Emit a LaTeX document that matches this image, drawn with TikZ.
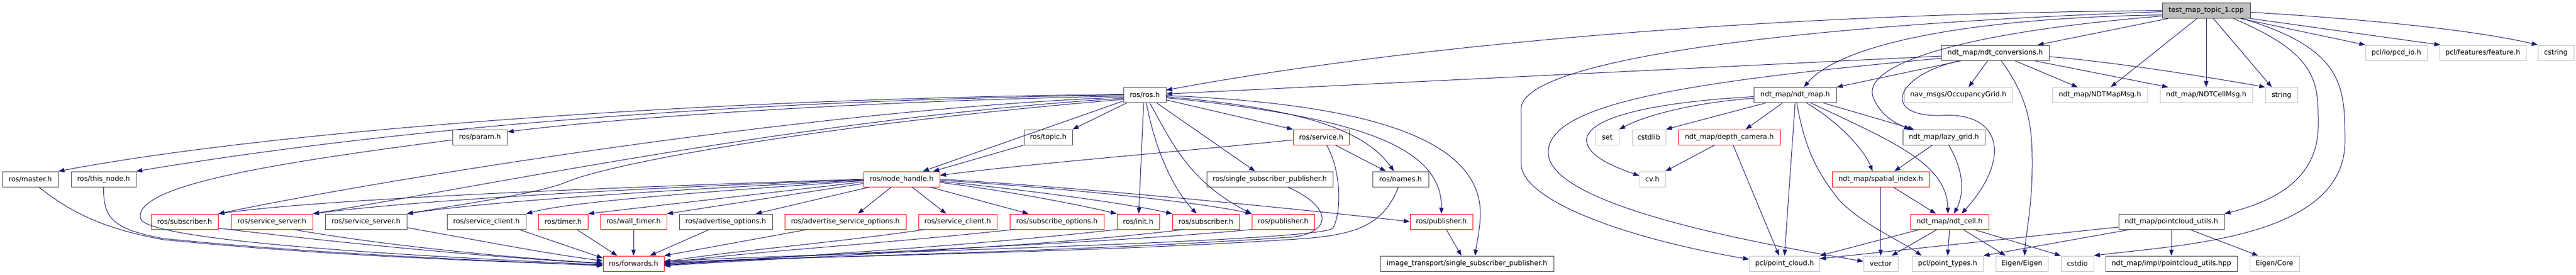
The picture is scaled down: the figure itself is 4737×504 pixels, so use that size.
\documentclass[tikz,border=0pt]{standalone}
\usepackage{fontspec}
\setmainfont{DejaVu Sans}
\usetikzlibrary{arrows.meta}
\definecolor{edgec}{RGB}{25,25,112}
\definecolor{bordk}{RGB}{64,64,64}
\definecolor{bordr}{RGB}{255,0,0}
\definecolor{bordg}{RGB}{191,191,191}
\tikzset{
  nbase/.style={draw, line width=1pt, inner sep=0pt, minimum height=28pt, fill=white, text=black, font=\fontsize{12.7}{15}\selectfont},
  nb/.style={nbase, draw=bordk},
  nr/.style={nbase, draw=bordr},
  ng/.style={nbase, draw=bordg},
  nroot/.style={nbase, draw=bordk, fill=bordg},
  lk/.style={draw=edgec, line width=1pt, -{Triangle[length=11pt,width=8pt]}}
}
\begin{document}
\begin{tikzpicture}[x=1pt,y=-1pt]
\useasboundingbox (0,0) rectangle (4737,504);
% row 0
\node[nroot, minimum width=162pt] (T) at (4057,19.5) {test\_map\_topic\_1.cpp};
% row 1
\node[nb, minimum width=198pt] (C) at (3669,97) {ndt\_map/ndt\_conversions.h};
\node[ng, minimum width=113pt] (pcd) at (4406.5,97) {pcl/io/pcd\_io.h};
\node[ng, minimum width=159pt] (feat) at (4565.5,97) {pcl/features/feature.h};
\node[ng, minimum width=66pt] (cstr) at (4700,97) {cstring};
% row 2
\node[nb, minimum width=78pt] (R) at (2105,174.5) {ros/ros.h};
\node[nb, minimum width=152pt] (M) at (3301,174.5) {ndt\_map/ndt\_map.h};
\node[ng, minimum width=198pt] (occ) at (3601,174.5) {nav\_msgs/OccupancyGrid.h};
\node[ng, minimum width=175pt] (mapmsg) at (3861.5,174.5) {ndt\_map/NDTMapMsg.h};
\node[ng, minimum width=170pt] (cellmsg) at (4057,174.5) {ndt\_map/NDTCellMsg.h};
\node[ng, minimum width=59pt] (str) at (4195.5,174.5) {string};
% row 3
\node[nb, minimum width=101pt] (param) at (882.5,252) {ros/param.h};
\node[nb, minimum width=89pt] (topic) at (1927.5,252) {ros/topic.h};
\node[nr, minimum width=103pt] (srv) at (2429.5,252) {ros/service.h};
\node[ng, minimum width=43pt] (set) at (2955.5,252) {set};
\node[ng, minimum width=62pt] (cstdlib) at (3032,252) {cstdlib};
\node[nr, minimum width=188pt] (depth) at (3180,252) {ndt\_map/depth\_camera.h};
\node[nb, minimum width=151pt] (lazy) at (3574.5,252) {ndt\_map/lazy\_grid.h};
% row 4
\node[nb, minimum width=103pt] (master) at (55.5,329) {ros/master.h};
\node[nb, minimum width=119pt] (thisn) at (190.5,329) {ros/this\_node.h};
\node[nr, minimum width=140pt] (N) at (1658,329) {ros/node\_handle.h};
\node[nb, minimum width=232pt] (ssp) at (2335,329) {ros/single\_subscriber\_publisher.h};
\node[nb, minimum width=103pt] (names) at (2575.5,329) {ros/names.h};
\node[ng, minimum width=47pt] (cv) at (3038.5,329) {cv.h};
\node[nr, minimum width=179pt] (spatial) at (3458.5,329) {ndt\_map/spatial\_index.h};
% row 5
\node[nr, minimum width=123pt] (subA) at (339.5,407) {ros/subscriber.h};
\node[nr, minimum width=150pt] (ssA) at (500,407) {ros/service\_server.h};
\node[nb, minimum width=150pt] (ssB) at (673,407) {ros/service\_server.h};
\node[nb, minimum width=145pt] (scA) at (894.5,407) {ros/service\_client.h};
\node[nr, minimum width=91pt] (timer) at (1035.5,407) {ros/timer.h};
\node[nr, minimum width=122pt] (wtimer) at (1165,407) {ros/wall\_timer.h};
\node[nb, minimum width=171pt] (advo) at (1334.5,407) {ros/advertise\_options.h};
\node[nr, minimum width=223pt] (advso) at (1554.5,407) {ros/advertise\_service\_options.h};
\node[nr, minimum width=144pt] (scB) at (1761,407) {ros/service\_client.h};
\node[nr, minimum width=173pt] (subo) at (1943.5,407) {ros/subscribe\_options.h};
\node[nr, minimum width=78pt] (init) at (2093,407) {ros/init.h};
\node[nr, minimum width=123pt] (subB) at (2217.5,407) {ros/subscriber.h};
\node[nr, minimum width=115pt] (pubA) at (2359.5,407) {ros/publisher.h};
\node[nr, minimum width=115pt] (pubB) at (2650.5,407) {ros/publisher.h};
\node[nr, minimum width=144pt] (cell) at (3585,407) {ndt\_map/ndt\_cell.h};
\node[nb, minimum width=194pt] (pcu) at (3993,407) {ndt\_map/pointcloud\_utils.h};
% row 6
\node[nr, minimum width=112pt] (fwd) at (1165,484) {ros/forwards.h};
\node[nb, minimum width=319pt] (itssp) at (2697.5,484) {image\_transport/single\_subscriber\_publisher.h};
\node[ng, minimum width=129pt] (pc) at (3281.5,484) {pcl/point\_cloud.h};
\node[ng, minimum width=63pt] (vec) at (3458.5,484) {vector};
\node[ng, minimum width=131pt] (pt) at (3581.5,484) {pcl/point\_types.h};
\node[ng, minimum width=96pt] (eig) at (3718,484) {Eigen/Eigen};
\node[ng, minimum width=60pt] (cstdio) at (3820,484) {cstdio};
\node[nb, minimum width=242pt] (hpp) at (3993,484) {ndt\_map/impl/pointcloud\_utils.hpp};
\node[ng, minimum width=91pt] (ecore) at (4182.5,484) {Eigen/Core};

% ---- edges from test_map_topic_1.cpp
\draw[lk] (T.west) .. controls (3200,25) and (2550,90) .. ([yshift=9pt]R.east);
\draw[lk] ([xshift=-70pt]T.south) -- ([xshift=78pt]C.north);
\draw[lk] ([yshift=-8pt]T.west) .. controls (3650,32) and (3390,75) .. ([xshift=16pt]M.north);
\draw[lk] ([yshift=-10pt]T.west) .. controls (3600,60) and (3420,120) .. (3445,180) .. controls (3460,215) and (3490,228) .. ([xshift=-62pt]lazy.north);
\draw[lk] ([yshift=-2pt]T.west) .. controls (3300,45) and (2797,110) .. (2797,200) -- (2797,300) .. controls (2797,370) and (3000,440) .. ([yshift=8pt]pc.west);
\draw[lk] ([xshift=-17pt]T.south) -- ([xshift=20pt]mapmsg.north);
\draw[lk] (T.south) -- (cellmsg.north);
\draw[lk] ([xshift=13pt]T.south) -- ([xshift=-18pt]str.north);
\draw[lk] ([xshift=50pt]T.south) .. controls (4263,100) and (4263,150) .. (4263,230) .. controls (4263,330) and (4180,370) .. (pcu.north east);
\draw[lk] ([xshift=66pt]T.south) .. controls (4312,90) and (4312,160) .. (4312,260) .. controls (4312,440) and (4000,450) .. (cstdio.north east);
\draw[lk] ([xshift=63pt]T.south) -- (pcd.north west);
\draw[lk] (T.south east) -- ([xshift=-78pt]feat.north);
\draw[lk] ([yshift=-3pt]T.east) .. controls (4350,35) and (4550,55) .. (cstr.north west);

% ---- edges from ndt_conversions.h
\draw[lk] ([yshift=-6pt]C.west) -- ([yshift=2pt]R.east);
\draw[lk] ([yshift=-10pt]C.west) .. controls (3100,150) and (2847,190) .. (2847,280) .. controls (2847,380) and (3250,450) .. ([yshift=4pt]vec.west);
\draw[lk] ([xshift=-62pt]C.south) -- (M.north east);
\draw[lk] ([xshift=-14pt]C.south) -- ([xshift=19pt]occ.north);
\draw[lk] ([xshift=36pt]C.south) -- ([xshift=-41pt]mapmsg.north);
\draw[lk] ([xshift=71pt]C.south) -- ([xshift=-70pt]cellmsg.north);
\draw[lk] ([yshift=-7pt]C.east) .. controls (3900,115) and (4080,145) .. (str.north west);
\draw[lk] ([xshift=11pt]C.south) .. controls (3730,180) and (3737,230) .. (3737,300) .. controls (3737,380) and (3725,430) .. ([xshift=5pt]eig.north);
\draw[lk] ([xshift=-66pt]C.south) .. controls (3480,140) and (3460,215) .. (3570,212) .. controls (3680,205) and (3700,290) .. ([xshift=22pt]cell.north);

% ---- edges from ndt_map.h
\draw[lk] ([yshift=-6pt]M.west) .. controls (3120,188) and (3030,210) .. (set.north east);
\draw[lk] ([xshift=-54pt]M.south) -- (cstdlib.north east);
\draw[lk] ([yshift=-3pt]M.west) .. controls (3000,190) and (2910,225) .. (2918,262) .. controls (2925,292) and (2980,310) .. ([yshift=6pt]cv.west);
\draw[lk] ([xshift=-23pt]M.south) -- ([xshift=30pt]depth.north);
\draw[lk] (M.south) -- (pc.north);
\draw[lk] ([xshift=3pt]M.south) .. controls (3320,280) and (3345,320) .. (3380,365) .. controls (3420,410) and (3500,445) .. ([xshift=-48pt]pt.north);
\draw[lk] ([xshift=21pt]M.south) .. controls (3390,230) and (3430,280) .. ([xshift=-15pt]spatial.north);
\draw[lk] ([xshift=29pt]M.south) .. controls (3480,260) and (3580,300) .. ([xshift=-3pt]cell.north);
\draw[lk] ([xshift=52pt]M.south) -- ([xshift=-55pt]lazy.north);

% ---- depth camera, lazy grid, spatial index, cell
\draw[lk] ([xshift=-27pt]depth.south) -- (cv.north east);
\draw[lk] ([xshift=7pt]depth.south) -- ([xshift=-10pt]pc.north);
\draw[lk] ([xshift=-21pt]lazy.south) -- ([xshift=25pt]spatial.north);
\draw[lk] ([xshift=9pt]lazy.south) .. controls (3615,320) and (3610,360) .. ([xshift=8pt]cell.north);
\draw[lk] (spatial.south) -- (vec.north);
\draw[lk] ([xshift=23pt]spatial.south) -- ([xshift=-25pt]cell.north);
\draw[lk] ([xshift=-55pt]cell.south) -- (pc.north east);
\draw[lk] ([xshift=-23pt]cell.south) -- ([xshift=20pt]vec.north);
\draw[lk] (cell.south) -- (pt.north);
\draw[lk] ([xshift=25pt]cell.south) -- ([xshift=-30pt]eig.north);
\draw[lk] ([xshift=45pt]cell.south) -- (cstdio.north west);

% ---- pointcloud utils
\draw[lk] (pcu.south) -- (hpp.north);
\draw[lk] ([xshift=34pt]pcu.south) -- ([xshift=-30pt]ecore.north);
\draw[lk] ([xshift=-76pt]pcu.south) -- (pt.north east);
\draw[lk] ([yshift=-10pt]pcu.west) -- ([yshift=9pt]pc.east);

% ---- ros/ros.h
\draw[lk] ([yshift=1pt]R.west) .. controls (1300,180) and (500,240) .. (master.north east);
\draw[lk] (R.west) .. controls (1300,185) and (700,240) .. (thisn.north east);
\draw[lk] ([yshift=-2pt]R.west) .. controls (1600,185) and (1150,215) .. ([yshift=10pt]param.east);
\draw[lk] ([yshift=-4pt]R.west) .. controls (1500,200) and (700,330) .. (subA.north east);
\draw[lk] ([yshift=-6pt]R.west) .. controls (1500,215) and (900,340) .. (ssA.north east);
\draw[lk] ([yshift=-8pt]R.west) .. controls (1500,230) and (1120,300) .. (1040,335) .. controls (990,355) and (850,375) .. (ssB.north east);
\draw[lk] ([xshift=-33pt]R.south) -- (topic.north east);
\draw[lk] ([yshift=-11pt]R.west) -- ([xshift=39pt]N.north);
\draw[lk] ([xshift=-2pt]R.south) -- ([xshift=1pt]init.north);
\draw[lk] ([xshift=3pt]R.south) .. controls (2125,280) and (2160,350) .. ([xshift=-17pt]subB.north);
\draw[lk] ([xshift=9pt]R.south) .. controls (2150,250) and (2180,330) .. (pubA.north west);
\draw[lk] ([xshift=22pt]R.south) -- ([xshift=-27pt]ssp.north);
\draw[lk] ([yshift=-9pt]R.east) -- (srv.north west);
\draw[lk] ([yshift=-3pt]R.east) .. controls (2400,200) and (2510,240) .. ([xshift=-12pt]names.north);
\draw[lk] ([yshift=-5pt]R.east) .. controls (2500,215) and (2652,270) .. (pubB.north);
\draw[lk] ([yshift=-1pt]R.east) .. controls (2500,190) and (2730,250) .. (2722,400) .. controls (2720,430) and (2715,450) .. ([xshift=15pt]itssp.north);

% ---- topic, service, names, single_subscriber_publisher
\draw[lk] (topic.south west) -- ([xshift=58pt]N.north);
\draw[lk] ([yshift=-5pt]srv.west) .. controls (2100,285) and (1900,300) .. ([yshift=7pt]N.east);
\draw[lk] ([xshift=26pt]srv.south) -- ([xshift=-27pt]names.north);
\draw[lk] ([xshift=10pt]srv.south) .. controls (2470,320) and (2465,400) .. (2450,420) .. controls (2400,445) and (1500,465) .. ([yshift=4pt]fwd.east);
\draw[lk] ([xshift=-4pt]names.south) .. controls (2545,410) and (2500,430) .. (2400,438) .. controls (2000,465) and (1500,470) .. ([yshift=2pt]fwd.east);
\draw[lk] ([xshift=33pt]ssp.south) .. controls (2450,380) and (2450,425) .. (2380,435) .. controls (2000,462) and (1500,470) .. (fwd.east);
\draw[lk] ([xshift=9pt]pubB.south) -- ([xshift=-10pt]itssp.north);

% ---- node_handle.h
\draw[lk] (N.west) .. controls (1100,345) and (600,365) .. (subA.north east);
\draw[lk] ([yshift=-1pt]N.west) .. controls (1100,348) and (750,370) .. (ssA.north east);
\draw[lk] ([yshift=-2pt]N.west) .. controls (1200,350) and (900,370) .. (ssB.north east);
\draw[lk] ([yshift=-3pt]N.west) .. controls (1300,352) and (1050,370) .. (scA.north east);
\draw[lk] ([yshift=-5pt]N.west) -- (timer.north east);
\draw[lk] ([yshift=-8pt]N.west) -- (wtimer.north east);
\draw[lk] ([xshift=-59pt]N.south) -- ([xshift=55pt]advo.north);
\draw[lk] ([xshift=-19pt]N.south) -- ([xshift=23pt]advso.north);
\draw[lk] ([xshift=19pt]N.south) -- ([xshift=-21pt]scB.north);
\draw[lk] ([xshift=52pt]N.south) -- ([xshift=-52pt]subo.north);
\draw[lk] ([yshift=-6pt]N.east) .. controls (1850,350) and (1980,375) .. (init.north west);
\draw[lk] ([yshift=-4pt]N.east) .. controls (1900,350) and (2080,375) .. (subB.north west);
\draw[lk] ([yshift=-2pt]N.east) .. controls (1950,345) and (2200,370) .. (pubA.north west);
\draw[lk] (N.east) .. controls (2000,345) and (2400,385) .. (pubB.west);

% ---- into ros/forwards.h from the right
\draw[lk] (pubA.south west) .. controls (2000,450) and (1500,465) .. ([yshift=-2pt]fwd.east);
\draw[lk] ([xshift=-40pt]subB.south) .. controls (1900,455) and (1500,470) .. ([yshift=-4pt]fwd.east);
\draw[lk] (init.south west) .. controls (1800,450) and (1500,468) .. ([yshift=-3pt]fwd.east);
\draw[lk] ([xshift=-80pt]subo.south) .. controls (1600,450) and (1400,460) .. ([yshift=1pt]fwd.east);
\draw[lk] ([xshift=-60pt]scB.south) .. controls (1500,450) and (1350,460) .. ([yshift=3pt]fwd.east);
\draw[lk] ([xshift=-70pt]advso.south) -- (fwd.north east);
\draw[lk] ([xshift=-30pt]advo.south) -- ([xshift=30pt]fwd.north);
\draw[lk] (wtimer.south) -- (fwd.north);
\draw[lk] ([xshift=25pt]timer.south) -- ([xshift=-30pt]fwd.north);
% ---- into ros/forwards.h from the left
\draw[lk] ([xshift=60pt]scA.south) -- ([yshift=10pt]fwd.west);
\draw[lk] ([yshift=-11pt]ssB.east) .. controls (900,445) and (1000,465) .. ([yshift=5pt]fwd.west);
\draw[lk] ([xshift=40pt]ssA.south) .. controls (700,450) and (950,475) .. ([yshift=1pt]fwd.west);
\draw[lk] ([yshift=-12pt]subA.east) .. controls (700,455) and (950,475) .. (fwd.west);
\draw[lk] ([xshift=16pt]master.south) .. controls (130,390) and (190,420) .. (300,440) .. controls (600,470) and (900,480) .. ([yshift=-3pt]fwd.west);
\draw[lk] (thisn.south) .. controls (190,400) and (205,420) .. (300,438) .. controls (600,468) and (900,478) .. ([yshift=-4pt]fwd.west);
\draw[lk] ([yshift=-5pt]param.west) .. controls (500,300) and (250,340) .. (258,400) .. controls (262,440) and (700,468) .. ([yshift=-2pt]fwd.west);
\end{tikzpicture}
\end{document}
